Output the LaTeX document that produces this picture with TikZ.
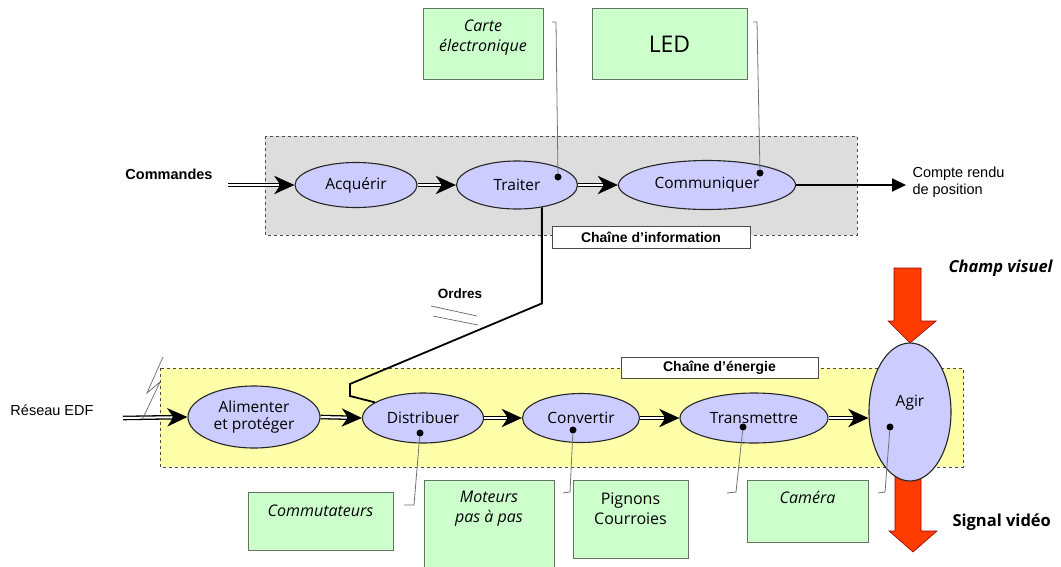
\documentclass[tikz,border=0pt]{standalone}
\usepackage{fontspec}
\setmainfont{Liberation Sans}
\newfontfamily\comic{Open Sans}
\usetikzlibrary{arrows.meta,calc,shapes.geometric}
\definecolor{lav}{RGB}{204,204,255}
\definecolor{pgreen}{RGB}{204,255,204}
\definecolor{gborder}{RGB}{100,115,100}
\definecolor{greybg}{RGB}{221,221,221}
\definecolor{yellowbg}{RGB}{255,255,170}
\definecolor{redarr}{RGB}{255,60,0}
\begin{document}
\begin{tikzpicture}[x=1pt,y=-1pt,
  func/.style={ellipse, draw=black!85, line width=1.1pt, fill=lav, inner sep=0pt, align=center,
    font=\comic\fontsize{15.5}{17}\selectfont},
  gbox/.style={draw=gborder, line width=0.8pt, fill=pgreen, inner sep=0pt},
  gtext/.style={font=\comic\itshape\fontsize{16}{20}\selectfont, align=center},
  chainbox/.style={dashed, draw=black!70, line width=0.7pt},
  chainlabel/.style={draw=black!70, fill=white, line width=0.7pt, inner sep=0pt,
    font=\bfseries\fontsize{14}{16}\selectfont},
  dbl/.style={draw=black, line width=4.6pt,
    -{Stealth[length=20pt 0 0,width=18pt 0 0,inset=6pt 0]},
    postaction={draw=white, line width=2pt, shorten >=15pt, arrows=-}},
  leader/.style={draw=black!55, line width=0.8pt},
  dotn/.style={circle, fill=black, inner sep=0pt, minimum size=7pt},
  ctrl/.style={line width=1.8pt, line join=miter},
  redflow/.style={fill=redarr, draw=red!60!black, line width=0.6pt},
  plain/.style={font=\fontsize{14.5}{17.5}\selectfont, align=left},
  boldlab/.style={font=\bfseries\fontsize{14.5}{16}\selectfont},
]
\useasboundingbox (0,0) rectangle (1061,566);
\fill[white] (0,0) rectangle (1061,566);

% chain backgrounds
\draw[chainbox, fill=greybg] (265,136) rectangle (857,235);
\draw[chainbox, fill=yellowbg] (160,368) rectangle (963,467);
\node[chainlabel, minimum width=198pt, minimum height=22pt] (linfo) at (651,237) {Chaîne d’information};
\node[chainlabel, minimum width=197pt, minimum height=21pt] (lener) at (719.5,367.5) {Chaîne d’énergie};

% top green boxes
\node[gbox, minimum width=120pt, minimum height=71pt] (carte) at (483,43.5) {};
\node[gtext] at (483,38) {Carte\\électronique};
\node[gbox, minimum width=155pt, minimum height=71pt] (led) at (669.5,43.5) {};
\node[font=\comic\fontsize{23}{25}\selectfont] at (669.5,44) {LED};

% bottom green boxes
\node[gbox, minimum width=145pt, minimum height=58pt] (commut) at (320.5,521) {};
\node[gtext] at (320.5,511) {Commutateurs};
\node[gbox, minimum width=130pt, minimum height=90pt] (moteur) at (489,525) {};
\node[gtext] at (489,509) {Moteurs\\pas à pas};
\node[gbox, minimum width=115pt, minimum height=78pt] (pignon) at (630.5,519) {};
\node[gtext, font=\comic\fontsize{16}{20}\selectfont] at (630.5,509) {Pignons\\Courroies};
\node[gbox, minimum width=121pt, minimum height=62pt] (camera) at (807.5,511) {};
\node[gtext] at (807.5,497) {Caméra};

% red flows
\draw[redflow] (894,268) -- (921,268) -- (921,321) -- (936,321) -- (910,343) -- (888,321) -- (894,321) -- cycle;
\draw[redflow] (895,470) -- (921,470) -- (921,531) -- (937,531) -- (913,552) -- (889,531) -- (895,531) -- cycle;

% function ellipses
\node[func, minimum width=122pt, minimum height=45pt] (acq) at (356,185) {Acquérir};
\node[func, minimum width=121pt, minimum height=48pt] (trait) at (517,185) {Traiter};
\node[func, minimum width=177pt, minimum height=49pt] (comm) at (707,185) {Communiquer};
\node[func, minimum width=132pt, minimum height=62pt] (alim) at (254,417) {Alimenter\\et protéger};
\node[func, minimum width=121pt, minimum height=50pt] (distr) at (423,418) {Distribuer};
\node[func, minimum width=117pt, minimum height=49pt] (conv) at (581,418) {Convertir};
\node[func, minimum width=148pt, minimum height=50pt] (transm) at (754,418) {Transmettre};
\node[func, minimum width=82pt, minimum height=138pt] (agir) at (910,412) {};
\node[font=\comic\fontsize{15.5}{17}\selectfont] at (910,403) {Agir};

% outside texts
\node[boldlab] (cmd) at (169,174) {Commandes};
\node[plain, anchor=west] (cr) at (909,182) {Compte rendu\\de position};
\node[plain] (edf) at (52,410) {Réseau EDF};
\node[boldlab, font=\bfseries\fontsize{13.5}{15}\selectfont] (ordres) at (460,294) {Ordres};
\node[font=\comic\bfseries\itshape\fontsize{16.5}{18}\selectfont, anchor=west] (champ) at (945,268) {Champ visuel};
\node[font=\comic\bfseries\fontsize{16.5}{18}\selectfont, anchor=west] (sig) at (949,522) {Signal vidéo};

% input/output coordinates
\coordinate (cmdin) at (228,185);
\coordinate (edfin) at (123,418);
\coordinate (crout) at (906,185);

% information chain arrows
\draw[dbl] (cmdin) -- (acq.west);
\draw[dbl] (acq.east) -- (trait.west);
\draw[dbl] (trait.east) -- (comm.west);
\draw[line width=1.8pt, -{Triangle[length=14pt,width=13pt]}] (comm.east) -- (crout);

% energy chain arrows
\draw[dbl] (edfin) -- (alim.west);
\draw[dbl] (alim.east) -- (distr.west);
\draw[dbl] (distr.east) -- (conv.west);
\draw[dbl] (conv.east) -- (transm.west);
\draw[dbl] (transm.east) -- (transm.east -| agir.west);

% lightning on EDF line
\draw[black!60, line width=0.7pt] (163,357) -- (147,393) -- (160,382) -- (143,418);

% order line
\draw[ctrl] (trait.-42.5) -- ++(0,96) -- (350,384) -- (350,396) -- (distr.162);
\draw[black!60, line width=0.7pt] (431,306) -- (477,316);
\draw[black!60, line width=0.7pt] (433,316) -- (478,325);

% dots and leaders
\node[dotn] (dT) at (558,177) {};
\node[dotn] (dC) at (760,173) {};
\node[dotn] (dD) at (420,433) {};
\node[dotn] (dV) at (573,430) {};
\node[dotn] (dM) at (743,427) {};
\node[dotn] (dA) at (890,427) {};
\draw[leader] (dT) -- (556,22) -- (552,22);
\draw[leader] (dC) -- (757,22) -- (753,22);
\draw[leader] (dD) -- (414,505) -- (404,505);
\draw[leader] (dV) -- (570,492) -- (563,493);
\draw[leader] (dM) -- (736,492) -- (727,493);
\draw[leader] (dA) -- (885,492) -- (878,493);
\end{tikzpicture}
\end{document}
